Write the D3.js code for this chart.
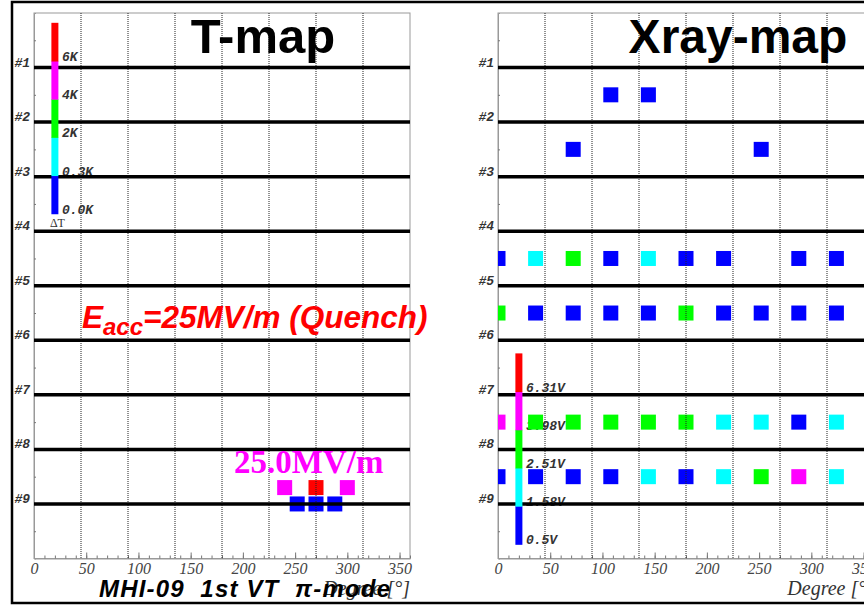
<!DOCTYPE html>
<html>
<head>
<meta charset="UTF-8">
<title>T-map / Xray-map</title>
<style>
  body { margin: 0; background: #fff; }
  svg { display: block; }
</style>
</head>
<body>
<script src="https://cdn.jsdelivr.net/npm/d3@7"></script>
<svg id="chart" width="864" height="606"></svg>
<script>
    // colour levels: 0 blue, 1 cyan, 2 green, 3 magenta, 4 red
    const levelColors = ["#0000ff", "#00ffff", "#00ff00", "#ff00ff", "#ff0000"];
    const cellLabels = ["#1", "#2", "#3", "#4", "#5", "#6", "#7", "#8", "#9"];
    const xTickLabels = [0, 50, 100, 150, 200, 250, 300, 350];

    // T-map hits (degree, position along cavity, level)
    const tDeg = [240, 270, 300, 252, 270, 288];
    const tPos = [8.7, 8.7, 8.7, 9.0, 9.0, 9.0];
    const tLevel = [3, 4, 3, 0, 0, 0];
    const tScaleLabels = ["0.0K", "0.3K", "2K", "4K", "6K"];

    // Xray-map: 10 detectors around the cavity, one row between each pair of cells
    const xrayDeg = [0, 36, 72, 108, 144, 180, 216, 252, 288, 324];
    const xrayRows = [1.5, 2.5, 4.5, 5.5, 7.5, 8.5];
    // -1 = no hit
    const xrayLevels = [
        [-1, -1, -1, 0, 0, -1, -1, -1, -1, -1],
        [-1, -1, 0, -1, -1, -1, -1, 0, -1, -1],
        [0, 1, 2, 0, 1, 0, 0, -1, 0, 0],
        [2, 0, 0, 0, 0, 2, 0, 0, 0, 0],
        [3, 2, 2, 2, 2, 2, 1, 1, 0, 1],
        [0, 0, 0, 0, 1, 0, 1, 2, 3, 1]
    ];
    const xScaleLabels = ["0.5V", "1.58V", "2.51V", "3.98V", "6.31V"];

    const svg = d3.select("#chart");
    const plotTop = 13, plotBottom = 558.5, plotW = 376;
    const sq = 15;

    const drawPanel = function (left, points, scaleLabels, barTop, labelOffset) {
        const g = svg.append("g");
        const x = d3.scaleLinear().domain([0, 360]).range([left, left + plotW]);
        const y = d3.scaleLinear().domain([0, 10]).range([plotTop, plotBottom]);
        const clipId = "clip" + left;

        g.append("clipPath").attr("id", clipId)
            .append("rect")
            .attr("x", left).attr("y", plotTop)
            .attr("width", plotW).attr("height", plotBottom - plotTop);

        // frame
        g.append("rect")
            .attr("x", left).attr("y", plotTop)
            .attr("width", plotW).attr("height", plotBottom - plotTop)
            .attr("fill", "none").attr("stroke", "#999").attr("stroke-width", 1);

        // bottom axis with labels, ticks pointing into the plot
        const ax = g.append("g")
            .attr("transform", `translate(0,${plotBottom})`)
            .call(d3.axisBottom(x).tickValues(xTickLabels).tickSizeInner(-6).tickSizeOuter(0).tickPadding(4));
        ax.select(".domain").attr("stroke", "#999");
        ax.selectAll(".tick line").attr("stroke", "#777");
        ax.selectAll("text")
            .style("font-family", "'Liberation Serif', serif").style("font-style", "italic")
            .style("font-size", "16px").attr("fill", "#444");

        const minor = g.append("g")
            .attr("transform", `translate(0,${plotBottom})`)
            .call(d3.axisBottom(x).tickValues(d3.range(0, 361, 10)).tickSize(-3).tickFormat(""));
        minor.select(".domain").remove();
        minor.selectAll(".tick line").attr("stroke", "#777");

        // minor ticks on the left axis
        const yAx = g.append("g")
            .attr("transform", `translate(${left},0)`)
            .call(d3.axisLeft(y).tickValues(d3.range(0.5, 10, 1)).tickSize(-2).tickFormat(""));
        yAx.select(".domain").attr("stroke", "#999");
        yAx.selectAll(".tick line").attr("stroke", "#777");

        // colour-scale labels (drawn under the cell lines)
        const segH = (y(barTop + 3.5) - y(barTop)) / 5;
        const barBottom = y(barTop + 3.5);
        g.selectAll(".scaleLabel").data(scaleLabels).join("text")
            .attr("x", x(20) + labelOffset)
            .attr("y", (d, i) => barBottom - i * segH)
            .style("font-family", "'Liberation Mono', monospace").style("font-style", "italic")
            .style("font-weight", "bold")
            .style("font-size", "13px").attr("fill", "#333")
            .text(d => d);

        // hit squares
        g.append("g").attr("clip-path", `url(#${clipId})`)
            .selectAll("rect").data(points).join("rect")
            .attr("x", d => x(d.deg) - sq / 2)
            .attr("y", d => y(d.pos) - sq / 2)
            .attr("width", sq).attr("height", sq)
            .attr("fill", d => levelColors[d.level]);

        // dotted grid every 45 degrees
        g.selectAll(".grid").data(d3.range(45, 360, 45)).join("line")
            .attr("x1", d => x(d)).attr("x2", d => x(d))
            .attr("y1", plotTop).attr("y2", plotBottom)
            .attr("stroke", "#222").attr("stroke-width", 1)
            .attr("stroke-dasharray", "1,1");

        // cell boundaries
        g.selectAll(".cell").data(cellLabels).join("line")
            .attr("x1", left).attr("x2", left + plotW)
            .attr("y1", (d, i) => y(i + 1)).attr("y2", (d, i) => y(i + 1))
            .attr("stroke", "#000").attr("stroke-width", 3.5);

        g.selectAll(".cellLabel").data(cellLabels).join("text")
            .attr("x", left - 4)
            .attr("y", (d, i) => y(i + 1) - 1)
            .attr("text-anchor", "end")
            .style("font-family", "'Liberation Mono', monospace").style("font-style", "italic")
            .style("font-weight", "bold")
            .style("font-size", "13px").attr("fill", "#333")
            .text(d => d);

        // colour bar
        g.selectAll(".bar").data(levelColors).join("rect")
            .attr("x", x(20) - 3.5)
            .attr("y", (d, i) => barBottom - (i + 1) * segH)
            .attr("width", 7)
            .attr("height", segH + 0.5)
            .attr("fill", d => d);

        // axis title
        g.append("text")
            .attr("x", left + plotW).attr("y", 595)
            .attr("text-anchor", "end")
            .style("font-family", "'Liberation Serif', serif").style("font-style", "italic")
            .style("font-size", "20px").attr("fill", "#333")
            .text("Degree [°]");

        return { x, y, g };
    };

    const tPoints = tDeg.map((d, i) => ({ deg: d, pos: tPos[i], level: tLevel[i] }));
    const xPoints = [];
    xrayRows.forEach((r, ri) => {
        xrayDeg.forEach((d, di) => {
            const lv = xrayLevels[ri][di];
            if (lv >= 0) xPoints.push({ deg: d, pos: r, level: lv });
        });
    });

    const tPanel = drawPanel(34, tPoints, tScaleLabels, 0.18, 7);
    drawPanel(498, xPoints, xScaleLabels, 6.24, 7);

    // delta T under the T-map scale
    svg.append("text")
        .attr("x", tPanel.x(20) - 5).attr("y", 227)
        .style("font-family", "'Liberation Serif', serif").style("font-size", "12px").attr("fill", "#333")
        .text("ΔT");

    // outer border
    svg.append("rect")
        .attr("x", 12).attr("y", 2).attr("width", 900).attr("height", 601)
        .attr("fill", "none").attr("stroke", "#000").attr("stroke-width", 2.5);

    // titles and annotations
    svg.append("text")
        .attr("x", 263).attr("y", 53).attr("text-anchor", "middle")
        .style("font-family", "'Liberation Sans', sans-serif").style("font-weight", "bold").style("font-size", "49px")
        .text("T-map");
    svg.append("text")
        .attr("x", 738).attr("y", 53).attr("text-anchor", "middle")
        .style("font-family", "'Liberation Sans', sans-serif").style("font-weight", "bold").style("font-size", "48px")
        .text("Xray-map");

    const eacc = svg.append("text")
        .attr("x", 82).attr("y", 328)
        .style("font-family", "'Liberation Sans', sans-serif").style("font-weight", "bold").style("font-style", "italic")
        .style("font-size", "31.5px").attr("fill", "#ff0000");
    eacc.append("tspan").text("E");
    eacc.append("tspan").style("font-size", "24px").attr("dy", 7).text("acc");
    eacc.append("tspan").attr("dy", -7).text("=25MV/m (Quench)");

    svg.append("text")
        .attr("x", 234).attr("y", 473)
        .style("font-family", "'Liberation Serif', serif").style("font-weight", "bold")
        .style("font-size", "33px").attr("fill", "#ff00ff")
        .text("25.0MV/m");

    svg.append("text")
        .attr("x", 99).attr("y", 597)
        .style("font-family", "'Liberation Sans', sans-serif").style("font-weight", "bold").style("font-style", "italic")
        .style("font-size", "24px").attr("textLength", 291).attr("lengthAdjust", "spacing")
        .style("white-space", "pre")
        .text("MHI-09  1st VT  π-mode");
</script>
</body>
</html>
